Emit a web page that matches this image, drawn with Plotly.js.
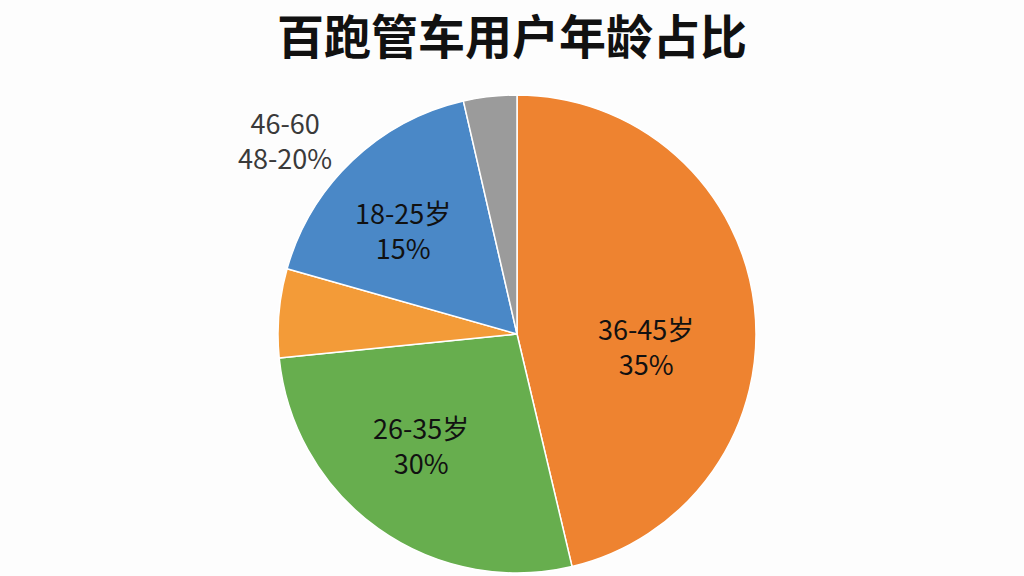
<!DOCTYPE html>
<html>
<head>
<meta charset="utf-8">
<script src="https://cdn.plot.ly/plotly-3.0.1.min.js"></script>
<style>
  html, body { margin: 0; padding: 0; background: #fdfdfd; }
  #chart { width: 1024px; height: 576px; }
</style>
</head>
<body>
<div id="chart"></div>
<script>
// slices clockwise from 12 o'clock, sizes
var groups = ['36-45岁', '26-35岁', '其他', '18-25岁', '46-60'];
var shares = [46.3, 27.1, 6.0, 17.0, 3.6];
var colors = ['#ee8330', '#67ae4e', '#f39b38', '#4a88c7', '#9b9b9b'];

// labels as printed on the chart
var labelText = ['36-45岁<br>35%', '26-35岁<br>30%', '18-25岁<br>15%', '46-60<br>48-20%'];
var labelX = [646, 421, 403, 285];
var labelY = [346, 445, 230, 140];
var labelColor = ['#111', '#111', '#111', '#3a3a3a'];

var W = 1024, H = 576;

var trace = {
  type: 'pie',
  labels: groups,
  values: shares,
  sort: false,
  direction: 'clockwise',
  rotation: 0,
  textinfo: 'none',
  hoverinfo: 'label+percent',
  marker: { colors: colors, line: { color: '#ffffff', width: 1.5 } },
  domain: { x: [277 / W, 757 / W], y: [3 / H, 481 / H] }
};

var annotations = labelText.map(function (t, i) {
  return {
    text: t,
    x: labelX[i] / W,
    y: 1 - labelY[i] / H,
    xref: 'paper', yref: 'paper',
    xanchor: 'center', yanchor: 'middle',
    showarrow: false,
    align: 'center',
    font: { family: '"Noto Sans CJK SC", "Noto Sans", sans-serif', size: 27, color: labelColor[i] }
  };
});

var layout = {
  width: W,
  height: H,
  margin: { l: 0, r: 0, t: 0, b: 0 },
  paper_bgcolor: '#fdfdfd',
  showlegend: false,
  title: {
    text: '<b>百跑管车用户年龄占比</b>',
    x: 0.5,
    xanchor: 'center',
    y: 1 - 38 / H,
    yanchor: 'middle',
    font: { family: '"Noto Sans CJK SC", sans-serif', size: 47, color: '#111' }
  },
  annotations: annotations
};

Plotly.newPlot('chart', [trace], layout, { displayModeBar: false, staticPlot: true });
</script>
</body>
</html>
